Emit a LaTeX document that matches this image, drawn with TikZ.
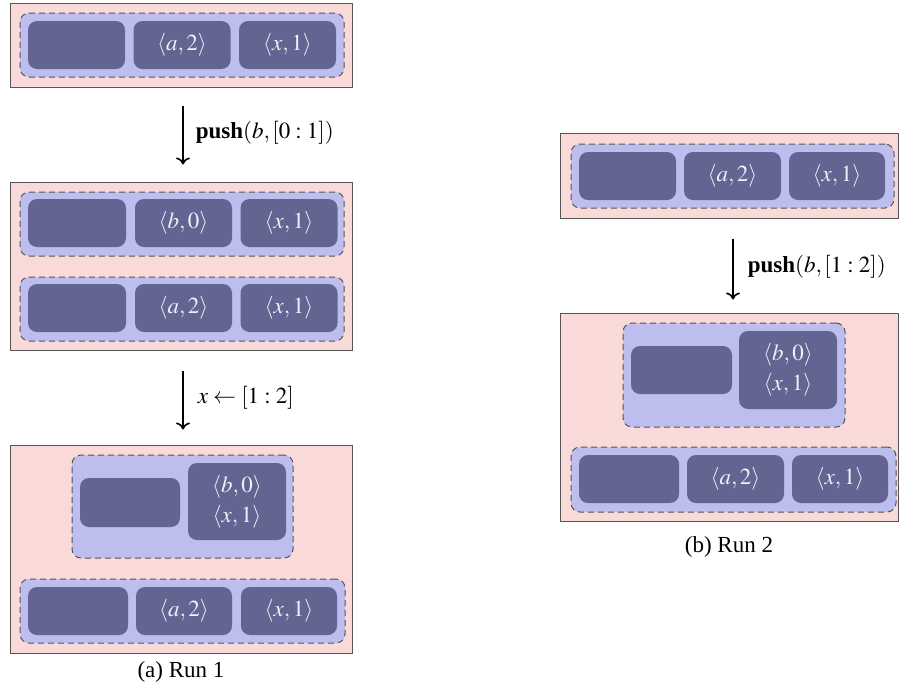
\documentclass[tikz,border=0pt]{standalone}
\usepackage{mathptmx}
\usepackage{fontspec}
\setmainfont{Liberation Serif}
\usetikzlibrary{arrows.meta}
\definecolor{pinkbg}{RGB}{250,217,217}
\definecolor{bluebg}{RGB}{190,190,238}
\definecolor{cellc}{RGB}{99,100,145}
\definecolor{edgec}{RGB}{85,85,85}
\definecolor{celltext}{RGB}{240,240,248}
\begin{document}
\begin{tikzpicture}[x=1pt,y=-1pt,
  every node/.style={inner sep=0pt, font=\fontsize{23}{30}\selectfont},
  outerbox/.style={draw=edgec, fill=pinkbg, line width=1pt},
  rowbox/.style={draw=edgec, fill=bluebg, line width=1pt, dash pattern=on 6pt off 4pt, rounded corners=9pt},
  cell/.style={fill=cellc, rounded corners=9pt, text=celltext, align=center},
  flow/.style={line width=1.6pt, -{To[length=7pt,width=14pt]}},
  lbl/.style={anchor=west}
]
\useasboundingbox (0,0) rectangle (899,694);

% ---------- Run 1, state A ----------
\node[outerbox, minimum width=342pt, minimum height=84pt] (A) at (181,45) {};
\node[rowbox, minimum width=324pt, minimum height=64pt] (Ar) at (182,45) {};
\node[cell, minimum width=97pt, minimum height=48pt] (A1) at (76.5,45) {};
\node[cell, minimum width=97pt, minimum height=48pt] (A2) at (182,45) {$\langle a,2\rangle$};
\node[cell, minimum width=97pt, minimum height=48pt] (A3) at (287.5,45) {$\langle x,1\rangle$};

% ---------- Run 1, state B ----------
\node[outerbox, minimum width=342pt, minimum height=168pt] (B) at (181,266) {};
\node[rowbox, minimum width=324pt, minimum height=64pt] (Br1) at (182,224) {};
\node[cell, minimum width=98pt, minimum height=48pt] (B11) at (77,223) {};
\node[cell, minimum width=97pt, minimum height=48pt] (B12) at (183.5,223) {$\langle b,0\rangle$};
\node[cell, minimum width=97pt, minimum height=48pt] (B13) at (289,223) {$\langle x,1\rangle$};
\node[rowbox, minimum width=324pt, minimum height=64pt] (Br2) at (182,309) {};
\node[cell, minimum width=98pt, minimum height=48pt] (B21) at (77,308) {};
\node[cell, minimum width=97pt, minimum height=48pt] (B22) at (183.5,308) {$\langle a,2\rangle$};
\node[cell, minimum width=97pt, minimum height=48pt] (B23) at (289,308) {$\langle x,1\rangle$};

% ---------- Run 1, state C ----------
\node[outerbox, minimum width=342pt, minimum height=208pt] (C) at (181,549) {};
\node[rowbox, minimum width=221pt, minimum height=103pt] (Ct) at (182.5,506.5) {};
\node[cell, minimum width=100pt, minimum height=49pt] (Ct1) at (130,502.5) {};
\node[cell, minimum width=98pt, minimum height=77pt] (Ct2) at (237,501.5) {$\langle b,0\rangle$\\$\langle x,1\rangle$};
\node[rowbox, minimum width=325pt, minimum height=64pt] (Cr) at (182.5,611) {};
\node[cell, minimum width=100pt, minimum height=48pt] (C1) at (78,611) {};
\node[cell, minimum width=96pt, minimum height=48pt] (C2) at (184,611) {$\langle a,2\rangle$};
\node[cell, minimum width=96pt, minimum height=48pt] (C3) at (289,611) {$\langle x,1\rangle$};

% ---------- Run 2, state D ----------
\node[outerbox, minimum width=338pt, minimum height=85pt] (D) at (729,175.5) {};
\node[rowbox, minimum width=323pt, minimum height=64pt] (Dr) at (732.5,176) {};
\node[cell, minimum width=97pt, minimum height=48pt] (D1) at (627.5,176) {};
\node[cell, minimum width=97pt, minimum height=48pt] (D2) at (732.5,176) {$\langle a,2\rangle$};
\node[cell, minimum width=96pt, minimum height=48pt] (D3) at (837,176) {$\langle x,1\rangle$};

% ---------- Run 2, state E ----------
\node[outerbox, minimum width=338pt, minimum height=208pt] (E) at (729,417) {};
\node[rowbox, minimum width=222pt, minimum height=104pt] (Et) at (734,375) {};
\node[cell, minimum width=101pt, minimum height=48pt] (Et1) at (681.5,370) {};
\node[cell, minimum width=98pt, minimum height=78pt] (Et2) at (788,370) {$\langle b,0\rangle$\\$\langle x,1\rangle$};
\node[rowbox, minimum width=325pt, minimum height=65pt] (Er) at (733.5,479.5) {};
\node[cell, minimum width=100pt, minimum height=48pt] (E1) at (629,479) {};
\node[cell, minimum width=97pt, minimum height=48pt] (E2) at (735.5,479) {$\langle a,2\rangle$};
\node[cell, minimum width=96pt, minimum height=48pt] (E3) at (840,479) {$\langle x,1\rangle$};

% ---------- arrows ----------
\draw[flow] ([xshift=2pt,yshift=-18pt]A.south) -- ([xshift=2pt,yshift=17pt]B.north)
  node[lbl, pos=0.5, xshift=12pt, yshift=2pt] (L1) {\textbf{push}$(b,[0:1])$};
\draw[flow] ([xshift=2pt,yshift=-20pt]B.south) -- ([xshift=2pt,yshift=15pt]C.north)
  node[lbl, pos=0.5, xshift=14pt, yshift=2pt] (L2) {$x \leftarrow [1:2]$};
\draw[flow] ([xshift=4pt,yshift=-20pt]D.south) -- ([xshift=4pt,yshift=13pt]E.north)
  node[lbl, pos=0.5, xshift=14pt, yshift=2pt] (L3) {\textbf{push}$(b,[1:2])$};

% ---------- captions ----------
\node (capa) at (181,672) {(a) Run 1};
\node (capb) at (729,547) {(b) Run 2};
\end{tikzpicture}
\end{document}
